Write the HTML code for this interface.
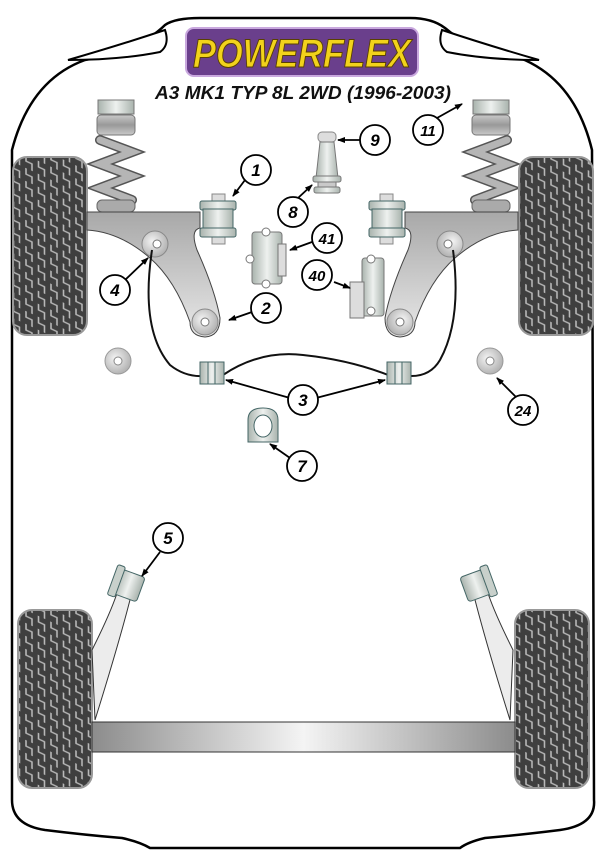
<!DOCTYPE html>
<html><head><meta charset="utf-8"><style>html,body{margin:0;padding:0;background:#fff}svg{display:block}</style></head>
<body>
<svg width="607" height="855" viewBox="0 0 607 855" xmlns="http://www.w3.org/2000/svg">
<defs>
<pattern id="tread" width="12.5" height="13" patternUnits="userSpaceOnUse" patternTransform="skewY(25)">
<rect width="12.5" height="13" fill="#3f3f3f"/>
<path d="M1 0 V6 H7 V13" fill="none" stroke="#b8b8b8" stroke-width="1.6"/>
</pattern>
<linearGradient id="band" x1="0" y1="0" x2="1" y2="0">
<stop offset="0" stop-color="#8c8c8c"/><stop offset="0.5" stop-color="#f4f4f4"/><stop offset="1" stop-color="#8c8c8c"/></linearGradient>
<linearGradient id="arm" x1="0" y1="0" x2="0" y2="1">
<stop offset="0" stop-color="#a8a8a8"/><stop offset="1" stop-color="#e8e8e8"/></linearGradient>
<linearGradient id="bush" x1="0" y1="0" x2="1" y2="0">
<stop offset="0" stop-color="#a9b3ad"/><stop offset="0.5" stop-color="#eef1ef"/><stop offset="1" stop-color="#a9b3ad"/></linearGradient>
<radialGradient id="disc" cx="0.4" cy="0.4" r="0.7"><stop offset="0" stop-color="#f4f4f4"/><stop offset="1" stop-color="#a9a9a9"/></radialGradient>
<linearGradient id="spring" x1="0" y1="0" x2="0" y2="1"><stop offset="0" stop-color="#c9c9c9"/><stop offset="0.5" stop-color="#999"/><stop offset="1" stop-color="#c9c9c9"/></linearGradient>
<marker id="ar" markerWidth="8" markerHeight="8" refX="7" refY="4" orient="auto" markerUnits="userSpaceOnUse"><path d="M0 1 L8 4 L0 7 Z" fill="#000"/></marker>
</defs>

<!-- body outline -->
<path d="M165 25 Q175 18 200 18 L410 18 Q432 18 445 28 Q470 50 520 58 Q575 80 592 150 L594 800 Q596 825 560 830 Q520 835 485 838 Q468 842 460 848 L150 848 Q140 842 122 838 Q85 835 45 830 Q12 825 12 800 L12 150 Q30 80 85 60 Q140 50 165 25 Z" fill="#fff" stroke="#000" stroke-width="2.5"/>
<path d="M165 30 Q120 45 68 60 Q120 60 160 52 Q170 45 165 30 Z" fill="#fff" stroke="#000" stroke-width="2"/>
<path d="M442 30 Q487 45 539 60 Q487 60 447 52 Q437 45 442 30 Z" fill="#fff" stroke="#000" stroke-width="2"/>

<!-- logo -->
<rect x="186" y="28" width="232" height="48" rx="8" fill="#6a3f8c" stroke="#c9a8de" stroke-width="2"/>
<text x="302" y="67" text-anchor="middle" font-family="Liberation Sans, sans-serif" font-weight="bold" font-style="italic" font-size="40" fill="#f2d21b" stroke="#5a4000" stroke-width="1" textLength="218" lengthAdjust="spacingAndGlyphs">POWERFLEX</text>
<text x="303" y="99" text-anchor="middle" font-family="Liberation Sans, sans-serif" font-weight="bold" font-style="italic" font-size="18" fill="#111" textLength="296" lengthAdjust="spacingAndGlyphs">A3 MK1 TYP 8L 2WD (1996-2003)</text>

<!-- springs -->
<g id="springL">
<rect x="97" y="115" width="38" height="20" rx="4" fill="url(#spring)" stroke="#777"/>
<path d="M98 100 h36 v14 h-36z" fill="url(#bush)" stroke="#777"/>
<path d="M100 140 L132 152 L100 164 L132 176 L100 188 L132 200" fill="none" stroke="#555" stroke-width="10" stroke-linecap="round"/>
<path d="M100 140 L132 152 L100 164 L132 176 L100 188 L132 200" fill="none" stroke="#b5b5b5" stroke-width="7" stroke-linecap="round"/>
<rect x="97" y="200" width="38" height="12" rx="5" fill="#aaa" stroke="#666"/>
</g>
<use href="#springL" transform="translate(607 0) scale(-1 1)"/>

<!-- tires -->
<rect x="13" y="157" width="74" height="178" rx="14" fill="url(#tread)" stroke="#999" stroke-width="2"/>
<rect x="519" y="157" width="74" height="178" rx="14" fill="url(#tread)" stroke="#999" stroke-width="2"/>
<rect x="18" y="610" width="74" height="178" rx="14" fill="url(#tread)" stroke="#999" stroke-width="2"/>
<rect x="515" y="610" width="74" height="178" rx="14" fill="url(#tread)" stroke="#999" stroke-width="2"/>

<!-- front subframe arms -->
<g id="armL">
<path d="M87 212 L200 212 L200 228 Q190 230 197 250 Q215 290 220 318 Q220 336 205 337 Q190 336 190 322 Q175 280 150 258 Q120 232 87 230 Z" fill="url(#arm)" stroke="#444" stroke-width="1"/>
<circle cx="155" cy="244" r="13" fill="url(#disc)" stroke="#888"/><circle cx="157" cy="244" r="4" fill="#fff" stroke="#777"/>
<circle cx="205" cy="322" r="13" fill="url(#disc)" stroke="#888"/><circle cx="205" cy="322" r="4" fill="#fff" stroke="#777"/>
<rect x="212" y="194" width="13" height="8" fill="#ddd" stroke="#888"/>
<rect x="212" y="236" width="13" height="8" fill="#ddd" stroke="#888"/>
<rect x="200" y="201" width="36" height="9" rx="2" fill="url(#bush)" stroke="#466"/>
<rect x="203" y="209" width="30" height="20" fill="url(#bush)" stroke="#466"/>
<rect x="200" y="228" width="36" height="9" rx="2" fill="url(#bush)" stroke="#466"/>
</g>
<use href="#armL" transform="translate(605 0) scale(-1 1)"/>

<!-- 9 / 8 mount -->
<rect x="318" y="132" width="18" height="10" rx="4" fill="#ddd" stroke="#888"/>
<path d="M320 142 L334 142 L338 178 L316 178 Z" fill="url(#bush)" stroke="#777"/>
<rect x="313" y="176" width="28" height="6" rx="2" fill="url(#bush)" stroke="#777"/>
<rect x="318" y="182" width="18" height="6" fill="#c9c9c9" stroke="#777"/>
<rect x="314" y="187" width="26" height="6" rx="2" fill="url(#bush)" stroke="#777"/>

<!-- 41 -->
<rect x="252" y="232" width="30" height="52" rx="3" fill="url(#bush)" stroke="#777"/>
<rect x="278" y="244" width="8" height="32" fill="#ddd" stroke="#777"/>
<circle cx="266" cy="232" r="4" fill="#fff" stroke="#777"/><circle cx="266" cy="284" r="4" fill="#fff" stroke="#777"/>
<circle cx="250" cy="259" r="4" fill="#fff" stroke="#777"/>
<!-- 40 -->
<rect x="362" y="258" width="22" height="58" rx="3" fill="url(#bush)" stroke="#777"/>
<rect x="350" y="282" width="14" height="36" fill="#ddd" stroke="#777"/>
<circle cx="371" cy="259" r="4" fill="#fff" stroke="#777"/><circle cx="371" cy="311" r="4" fill="#fff" stroke="#777"/>

<!-- anti roll bar -->
<path d="M152 250 Q140 330 170 365 Q185 377 203 376 M223 375 Q260 350 303 355 Q350 360 388 375 M409 376 Q430 377 440 360 Q462 320 453 250" fill="none" stroke="#111" stroke-width="2"/>
<rect x="200" y="362" width="24" height="22" fill="url(#bush)" stroke="#466"/><path d="M208 362v22M215 362v22" stroke="#466"/>
<rect x="387" y="362" width="24" height="22" fill="url(#bush)" stroke="#466"/><path d="M395 362v22M402 362v22" stroke="#466"/>
<circle cx="118" cy="361" r="13" fill="url(#disc)" stroke="#999"/><circle cx="118" cy="361" r="4" fill="#fff" stroke="#888"/>
<circle cx="490" cy="361" r="13" fill="url(#disc)" stroke="#999"/><circle cx="490" cy="361" r="4" fill="#fff" stroke="#888"/>
<!-- 7 bracket -->
<path d="M248 442 L248 420 Q248 408 263 408 Q278 408 278 420 L278 442 Z" fill="url(#bush)" stroke="#466"/>
<ellipse cx="263" cy="426" rx="9" ry="11" fill="#fff" stroke="#466"/>

<!-- rear -->
<path d="M92 650 Q112 610 118 590 L132 592 Q120 640 95 720 Z" fill="#ececec" stroke="#333"/>
<path d="M513 650 Q493 610 487 590 L473 592 Q485 640 510 720 Z" fill="#ececec" stroke="#333"/>
<g transform="rotate(20 128 584)"><rect x="116" y="572" width="26" height="26" rx="3" fill="url(#bush)" stroke="#466"/><rect x="112" y="569" width="8" height="32" rx="2" fill="#c8d0cb" stroke="#466"/></g>
<g transform="rotate(-20 477 584)"><rect x="463" y="572" width="26" height="26" rx="3" fill="url(#bush)" stroke="#466"/><rect x="485" y="569" width="8" height="32" rx="2" fill="#c8d0cb" stroke="#466"/></g>
<rect x="92" y="722" width="423" height="30" fill="url(#band)" stroke="#333"/>

<!-- labels -->
<g fill="none" stroke="#000" stroke-width="1.8" marker-end="url(#ar)">
<line x1="245" y1="180" x2="233" y2="196"/>
<line x1="360" y1="140" x2="338" y2="140"/>
<line x1="437" y1="118" x2="462" y2="104"/>
<line x1="298" y1="198" x2="312" y2="185"/>
<line x1="312" y1="242" x2="290" y2="250"/>
<line x1="334" y1="282" x2="350" y2="288"/>
<line x1="125" y1="280" x2="148" y2="258"/>
<line x1="252" y1="312" x2="229" y2="320"/>
<line x1="290" y1="398" x2="226" y2="380"/>
<line x1="316" y1="398" x2="385" y2="380"/>
<line x1="290" y1="458" x2="270" y2="444"/>
<line x1="516" y1="397" x2="497" y2="378"/>
<line x1="160" y1="552" x2="142" y2="576"/>
</g>
<g font-family="Liberation Sans, sans-serif" font-weight="bold" font-style="italic" font-size="17" text-anchor="middle">
<g fill="#fff" stroke="#000" stroke-width="1.8">
<circle cx="256" cy="170" r="15"/><circle cx="375" cy="140" r="15"/><circle cx="428" cy="130" r="15"/>
<circle cx="293" cy="212" r="15"/><circle cx="327" cy="238" r="15"/><circle cx="317" cy="275" r="15"/>
<circle cx="115" cy="290" r="15"/><circle cx="266" cy="308" r="15"/><circle cx="303" cy="400" r="15"/>
<circle cx="302" cy="466" r="15"/><circle cx="523" cy="410" r="15"/><circle cx="168" cy="538" r="15"/>
</g>
<text x="256" y="176">1</text><text x="375" y="146">9</text><text x="428" y="136" font-size="15">11</text>
<text x="293" y="218">8</text><text x="327" y="244" font-size="15">41</text><text x="317" y="281" font-size="15">40</text>
<text x="115" y="296">4</text><text x="266" y="314">2</text><text x="303" y="406">3</text>
<text x="302" y="472">7</text><text x="523" y="416" font-size="15">24</text><text x="168" y="544">5</text>
</g>
</svg>
</body></html>
